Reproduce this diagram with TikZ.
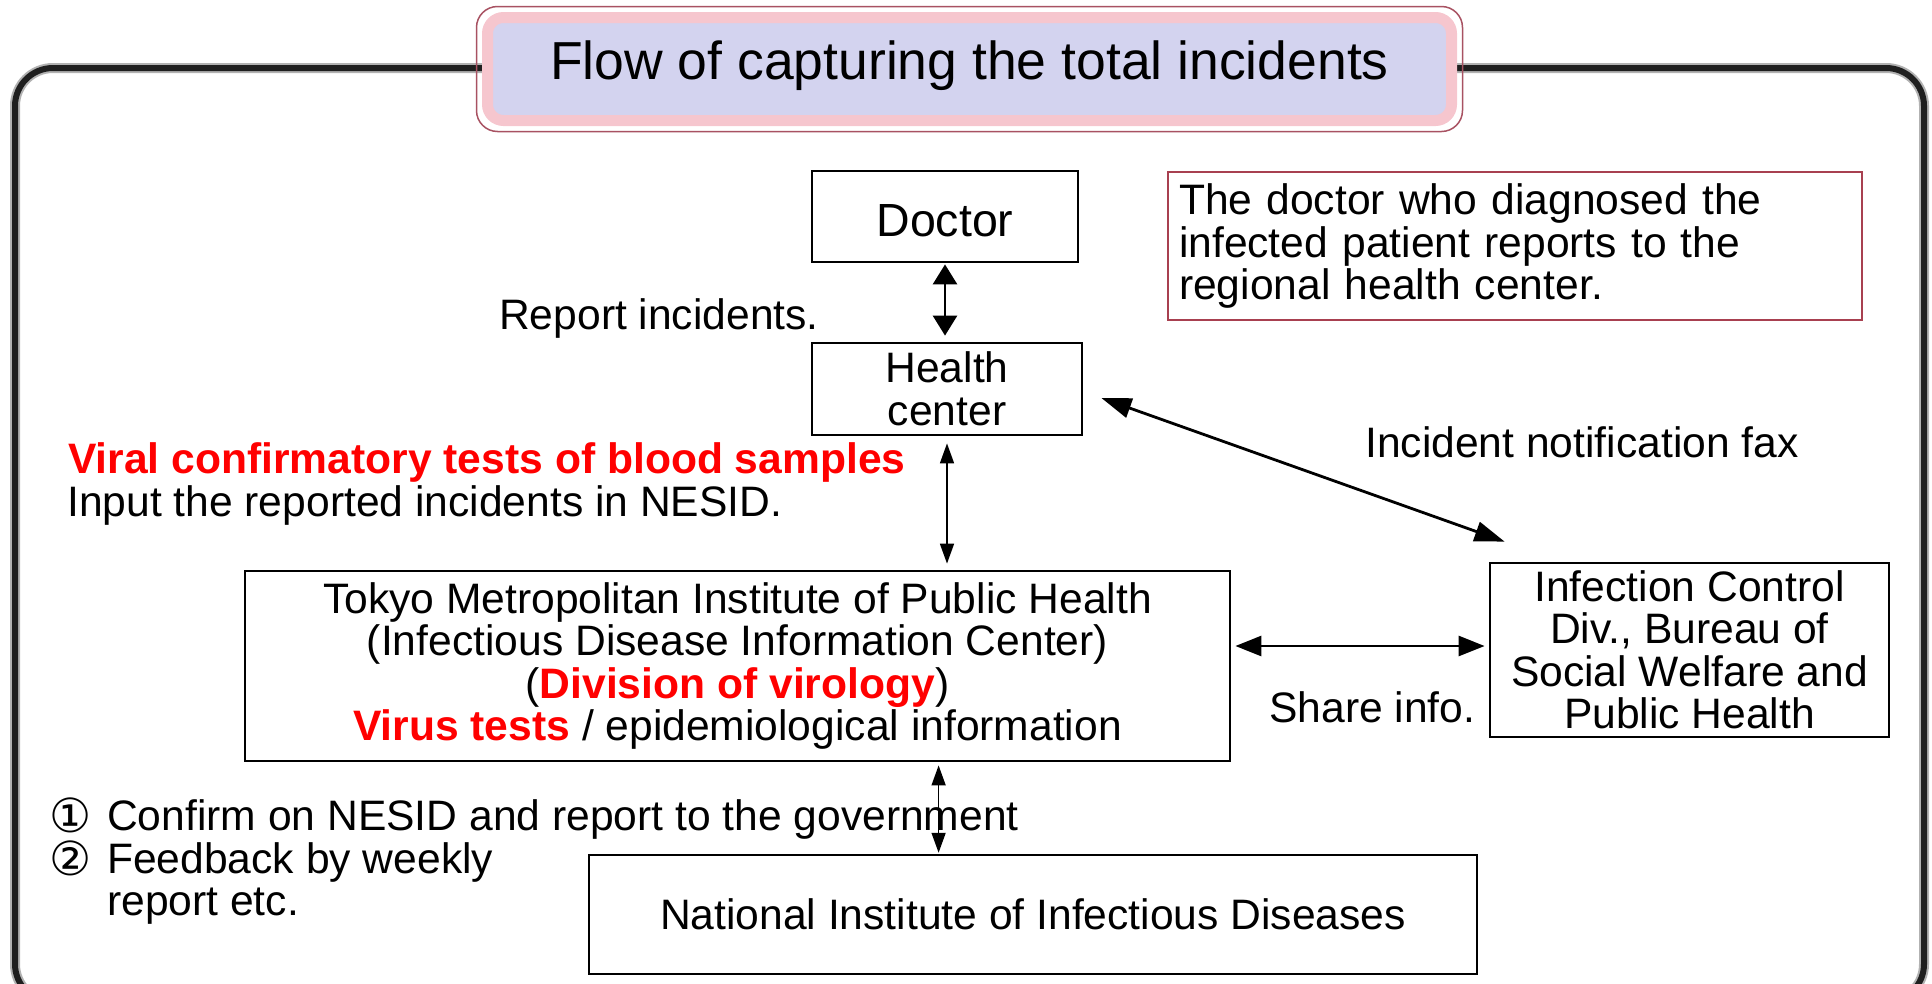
\documentclass[tikz,border=0pt]{standalone}
\usepackage{fontspec}
\setmainfont{Liberation Sans}
\newfontfamily\symfont{DejaVu Sans}
\usetikzlibrary{arrows.meta,calc}
\definecolor{titlefill}{HTML}{D3D3EF}
\definecolor{titleband}{HTML}{F6C6CE}
\definecolor{titleedge}{HTML}{A85262}
\definecolor{noteedge}{HTML}{A84050}
\newcommand{\bodyfont}{\fontsize{42.6}{42.5}\selectfont}
\newcommand{\redbf}[1]{\textcolor{red}{\bfseries #1}}
\newcommand{\circnum}[1]{\makebox[58pt][l]{\smash{\raisebox{-2pt}{\fontsize{47}{42.5}\symfont #1}}}}
\begin{document}
\begin{tikzpicture}[x=1pt,y=-1pt,
  box/.style={draw=black, line width=2.8pt, inner sep=0pt, align=center, font=\bodyfont},
  notebox/.style={draw=noteedge, line width=2.6pt, inner xsep=11pt, inner ysep=0pt,
    align=left, text width=672pt, minimum height=148pt, font=\bodyfont},
  lbl/.style={inner sep=0pt, anchor=west, align=left, font=\bodyfont},
  bigarrow/.style={{Triangle[length=20pt,width=24pt]}-{Triangle[length=20pt,width=24pt]}, line width=2.8pt},
  diagarrow/.style={{Triangle[length=30pt,width=20pt]}-{Triangle[length=30pt,width=20pt]}, line width=2.8pt},
  sharearrow/.style={{Triangle[length=26pt,width=20pt]}-{Triangle[length=26pt,width=20pt]}, line width=2.8pt},
  thinarrow/.style={{Triangle[length=20pt,width=14pt]}-{Triangle[length=20pt,width=14pt]}, line width=1.6pt},
]
\useasboundingbox (0,0) rectangle (1932,983);

% outer frame, open at the bottom edge of the page
\begin{scope}
  \clip (0,0) rectangle (1932,983);
  \draw[black!30, line width=10pt, rounded corners=38pt] (15,68) rectangle (1924,1002);
  \draw[black!88, line width=6pt, rounded corners=38pt] (15,68) rectangle (1924,1002);
\end{scope}

% title plate
\node[fill=titlefill, draw=titleband, line width=11pt, rounded corners=16pt,
      minimum width=964pt, minimum height=103pt, inner sep=0pt,
      text height=20.6pt, text depth=0pt, font=\fontsize{53.5}{60}\selectfont] (title) at (969.5,69)
      {Flow of capturing the total incidents};
\draw[titleedge, line width=1.5pt, rounded corners=21pt]
  ($(title.north west)+(-5.5,-5.5)$) rectangle ($(title.south east)+(5.5,5.5)$);

% boxes
\node[box, minimum width=266pt, minimum height=91pt, text height=40.4pt, text depth=0pt,
      font=\fontsize{46.5}{48}\selectfont] (doctor) at (945,216.5) {Doctor};
\node[box, minimum width=270pt, minimum height=92pt] (hc) at (947,389)
  {Health\\center};
\node[notebox] (note) at (1515,246)
  {The doctor who diagnosed the\\infected patient reports to the\\regional health center.};
\node[box, minimum width=985pt, minimum height=190pt] (tmiph) at (737.5,666)
  {Tokyo Metropolitan Institute of Public Health\\
   (Infectious Disease Information Center)\\
   (\redbf{Division of virology})\\
   \redbf{Virus tests} / epidemiological information};
\node[box, minimum width=399pt, minimum height=174pt] (icd) at (1689.5,650)
  {Infection Control\\Div., Bureau of\\Social Welfare and\\Public Health};
\node[box, line width=2.5pt, minimum width=888pt, minimum height=119pt] (niid) at (1033,914.5)
  {National Institute of Infectious Diseases};

% free labels
\node[lbl] (rep) at (499,318) {Report incidents.};
\node[lbl] (fax) at (1365,442) {Incident notification fax};
\node[lbl] (viral) at (68,462) {\redbf{Viral confirmatory tests of blood samples}};
\node[lbl] (nesid) at (67,505) {Input the reported incidents in NESID.};
\node[lbl] (share) at (1269,707) {Share info.};
\node[lbl] (steps) at (49,862)
  {\circnum{①}Confirm on NESID and report to the government\\
   \circnum{②}Feedback by weekly\\
   \hspace*{58pt}report etc.};

% connectors
\draw[bigarrow, shorten <=1pt, shorten >=6pt] (doctor.south) -- (doctor.south |- hc.north);
\draw[thinarrow, shorten <=7pt, shorten >=6pt] (hc.south) -- (hc.south |- tmiph.north);
\draw[diagarrow] ($(hc.east)+(18,9)$) -- ($(icd.north west)+(16,-20)$);
\draw[sharearrow] ($(tmiph.east |- icd.west)+(4,-4)$) -- ($(icd.west)+(-4,-4)$);
\coordinate (tn) at ($(tmiph.south west)+(695,0)$);
\draw[thinarrow, shorten <=3pt, shorten >=1pt] (tn) -- (tn |- niid.north);
\end{tikzpicture}
\end{document}
